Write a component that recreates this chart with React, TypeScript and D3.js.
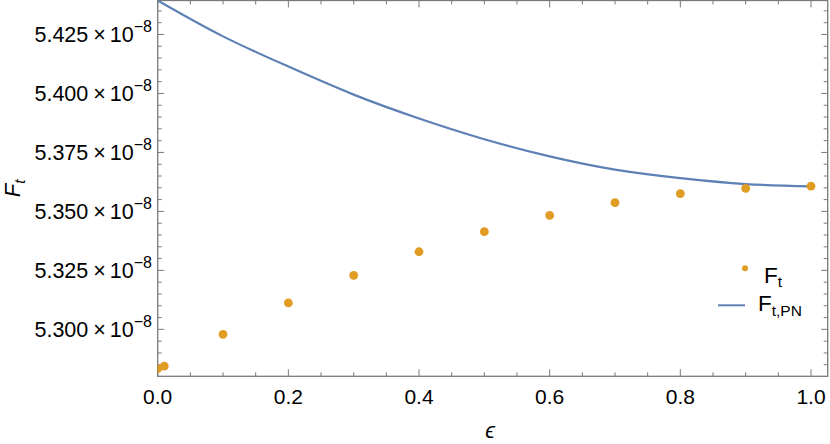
import React from "react";
import * as d3 from "d3";

const epsPoints = [0, 0.01, 0.1, 0.2, 0.3, 0.4, 0.5, 0.6, 0.7, 0.8, 0.9, 1.0];
const ftPoints = [5.2833, 5.2844, 5.2979, 5.3112, 5.3229, 5.3329, 5.3414, 5.3483, 5.3537, 5.3575, 5.3598, 5.3607];

const epsCurve = [0, 0.1, 0.2, 0.3, 0.4, 0.5, 0.6, 0.7, 0.8, 0.9, 1.0];
const ftPN = [5.4394, 5.4242, 5.4114, 5.3995, 5.3894, 5.3806, 5.3733, 5.3677, 5.3641, 5.3616, 5.3606];

const xTicks = [0, 0.2, 0.4, 0.6, 0.8, 1.0];
const yTicks = [5.3, 5.325, 5.35, 5.375, 5.4, 5.425];

const W = 830, H = 444;
const L = 157.7, R = 827.7, T = 0.5, B = 376.3;

export default function App() {
  const x = d3.scaleLinear().domain([0, 1]).range([L, 811]);
  const y = d3.scaleLinear().domain([5.2801, 5.4394]).range([B, T]);
  const xMax = x.invert(R);
  const xMinor = d3.range(0, xMax + 1e-9, 0.05);
  const yMinor = d3.range(5.28, 5.44 + 1e-9, 0.005).filter(v => y(v) <= B + 0.01 && y(v) >= T - 0.01);
  const isMajorX = (v: number) => Math.abs(v / 0.2 - Math.round(v / 0.2)) < 1e-6;
  const isMajorY = (v: number) => Math.abs(v / 0.025 - Math.round(v / 0.025)) < 1e-6;

  const line = d3.line<number>()
    .x((_, i) => x(epsCurve[i]))
    .y(d => y(d))
    .curve(d3.curveNatural);

  const frameColor = "#7a7a7a";
  const font = "'Liberation Sans', Arial, sans-serif";
  const orange = "#E19C24";
  const blue = "#5E81B5";

  return (
    <svg width={W} height={H} style={{ position: "absolute", left: 0, top: 0, background: "#fff" }} fontFamily={font}>
      <defs>
        <clipPath id="plotclip">
          <rect x={L} y={T} width={R - L} height={B - T} />
        </clipPath>
      </defs>

      {xMinor.map((v, i) => {
        const len = isMajorX(v) ? 7 : 4;
        const px = x(v);
        return (
          <g key={"xt" + i} stroke={frameColor} strokeWidth={1}>
            <line x1={px} x2={px} y1={B} y2={B - len} />
            <line x1={px} x2={px} y1={T} y2={T + len} />
          </g>
        );
      })}
      {yMinor.map((v, i) => {
        const len = isMajorY(v) ? 6.5 : 4;
        const py = y(v);
        return (
          <g key={"yt" + i} stroke={frameColor} strokeWidth={1}>
            <line x1={L} x2={L + len} y1={py} y2={py} />
            <line x1={R} x2={R - len} y1={py} y2={py} />
          </g>
        );
      })}

      <rect x={L} y={T} width={R - L} height={B - T} fill="none" stroke={frameColor} strokeWidth={1.3} />

      <g clipPath="url(#plotclip)">
        <path d={line(ftPN) || ""} fill="none" stroke={blue} strokeWidth={2.2} />
        {epsPoints.map((e, i) => (
          <circle key={"p" + i} cx={x(e)} cy={y(ftPoints[i])} r={4.4} fill={orange} />
        ))}
      </g>

      {xTicks.map((v, i) => (
        <text key={"xl" + i} x={x(v)} y={404} textAnchor="middle" fontSize={21} fill="#000">
          {v.toFixed(1)}
        </text>
      ))}

      {yTicks.map((v, i) => (
        <text key={"yl" + i} x={152} y={y(v) + 8} textAnchor="end" fontSize={21.5} fill="#000">
          {v.toFixed(3)}
          <tspan dx={5}>×</tspan>
          <tspan dx={4}>10</tspan>
          <tspan dy={-10} fontSize={16}>−8</tspan>
        </text>
      ))}

      <text x={490} y={438} textAnchor="middle" fontSize={22} fontStyle="italic" fill="#000">ϵ</text>
      <text transform={`translate(20,${(T + B) / 2}) rotate(-90)`} textAnchor="middle" fontSize={22} fontStyle="italic" fill="#000">
        F<tspan dy={5} fontSize={15}>t</tspan>
      </text>

      <circle cx={745} cy={268.3} r={3} fill={orange} />
      <text x={764} y={282.7} fontSize={22.5} fill="#000">
        F<tspan dy={4.5} fontSize={15.5}>t</tspan>
      </text>
      <line x1={718} x2={745} y1={305.3} y2={305.3} stroke={blue} strokeWidth={2} />
      <text x={758} y={311} fontSize={22.5} fill="#000">
        F<tspan dy={4.5} fontSize={15.5}>t,PN</tspan>
      </text>
    </svg>
  );
}
